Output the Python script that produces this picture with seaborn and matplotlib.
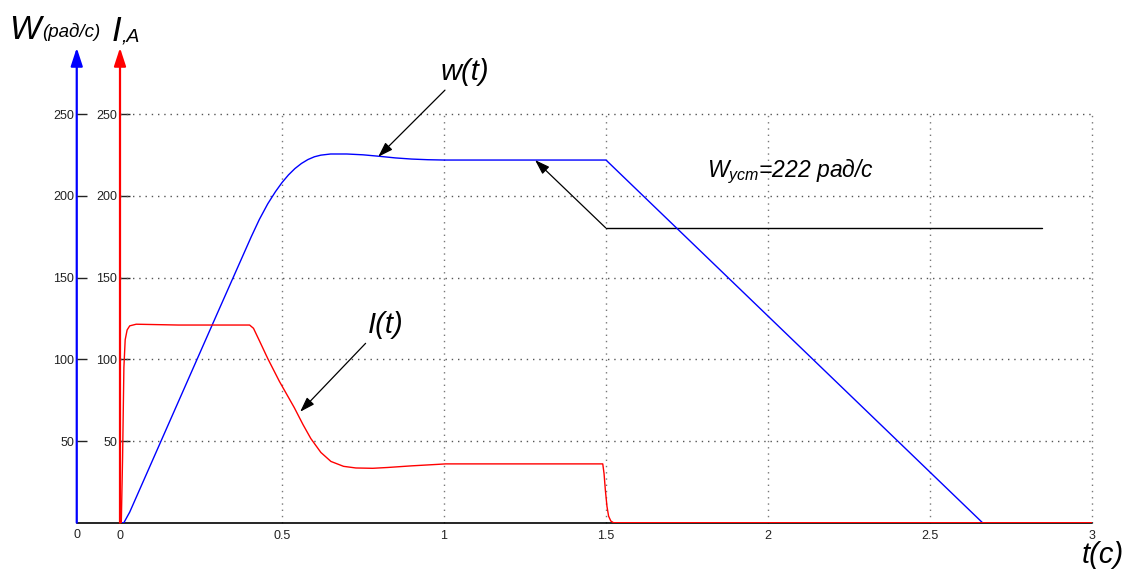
import matplotlib
matplotlib.use('Agg')
import matplotlib.pyplot as plt
import seaborn as sns
import pandas as pd

# Скорость w(t), рад/с
w_t = [0, 0.012, 0.03, 0.1, 0.2, 0.3, 0.405, 0.43, 0.456, 0.48, 0.5, 0.52,
       0.54, 0.56, 0.58, 0.6, 0.62, 0.65, 0.7, 0.75, 0.8, 0.85, 0.9, 0.95,
       1.0, 1.5, 2.662, 3.0]
w_val = [0, 0, 6.5, 38, 83, 128, 175, 185.6, 195.2, 202.7, 208.2, 212.9,
         216.8, 219.9, 222.3, 224, 225, 225.7, 225.7, 225.2, 224.3, 223.3, 222.6, 222.2,
         222, 222, 0, 0]

# Ток I(t), А
i_t = [0, 0.004, 0.008, 0.012, 0.016, 0.022, 0.03, 0.05, 0.18, 0.4, 0.412,
       0.43, 0.456, 0.492, 0.538, 0.565, 0.589, 0.62, 0.651, 0.69, 0.728, 0.78,
       0.826, 0.9, 0.98, 1.005, 1.49, 1.494, 1.498, 1.503, 1.508, 1.515, 1.523, 3.0]
i_val = [0, 0, 40, 95, 112, 118, 120.5, 121.5, 121, 121, 119,
         111.5, 100.5, 86.5, 70.4, 60, 51.5, 43, 37.5, 34.5, 33.5, 33.3,
         33.8, 34.8, 35.7, 36, 36, 30, 20, 10, 4, 1, 0, 0]

x_ticks = [0, 0.5, 1, 1.5, 2, 2.5, 3]
x_tick_labels = ['0', '0.5', '1', '1.5', '2', '2.5', '3']
y_ticks = [50, 100, 150, 200, 250]
w_ust = 222

df_w = pd.DataFrame({'t': w_t, 'w': w_val})
df_i = pd.DataFrame({'t': i_t, 'I': i_val})

sns.set_style('white')
plt.rcParams['font.family'] = ['Liberation Sans', 'DejaVu Sans']
plt.rcParams['text.color'] = 'black'
plt.rcParams['mathtext.fontset'] = 'custom'
plt.rcParams['mathtext.it'] = 'Liberation Sans:italic'
plt.rcParams['mathtext.rm'] = 'Liberation Sans'

fig = plt.figure(figsize=(11.27, 5.71), dpi=100)
ax = fig.add_axes([120 / 1127, 48.3 / 571, 972 / 1127, 408.4 / 571])
ax2 = ax.twinx()
blue_x = -0.0445

sns.lineplot(data=df_w, x='t', y='w', ax=ax, color='#0000ff', lw=1.0,
             estimator=None, sort=False, zorder=3)
sns.lineplot(data=df_i, x='t', y='I', ax=ax, color='#ff0000', lw=1.0,
             estimator=None, sort=False, zorder=4)

ax.set_xlim(0, 3)
ax.set_ylim(0, 250)
ax2.set_ylim(0, 250)
ax.set_xlabel('')
ax.set_ylabel('')

# сетка
for x in x_ticks[1:]:
    ax.plot([x, x], [0, 250], ls=(0, (1, 3.5)), color='#777777', lw=1.0,
            zorder=1, clip_on=False)
for y in y_ticks:
    ax.plot([0, 3], [y, y], ls=(0, (1, 3.5)), color='#555555', lw=1.0,
            zorder=1, clip_on=False)

for s in ax.spines.values():
    s.set_visible(False)
for s in ax2.spines.values():
    s.set_visible(False)

ax.set_xticks(x_ticks)
ax.set_xticklabels(x_tick_labels)
ax.set_yticks(y_ticks)
ax.tick_params(axis='x', direction='in', length=8, width=1, colors='#222222',
               labelsize=9, pad=5)
ax.tick_params(axis='y', direction='in', length=7, width=1, colors='#222222',
               labelsize=9, pad=2)
ax2.spines['left'].set_position(('axes', blue_x))
ax2.yaxis.set_ticks_position('left')
ax2.set_yticks(y_ticks)
ax2.tick_params(axis='y', direction='in', length=7, width=1, colors='#222222',
                labelsize=9, pad=2)
ax2.text(blue_x, -0.029, '0', transform=ax.transAxes, ha='center', va='center',
         fontsize=9, color='#222222')

# оси со стрелками
yt = ax.get_yaxis_transform()
ax.plot([blue_x, 1], [0, 0], transform=yt, color='black', lw=1.2,
        clip_on=False, zorder=2)
for xpos, col in [(blue_x, '#0000ff'), (0, '#ff0000')]:
    ax.annotate('', xy=(xpos, 290.7), xytext=(xpos, 0), xycoords=yt,
                textcoords=yt, annotation_clip=False,
                arrowprops=dict(arrowstyle='-|>,head_length=1.1,head_width=0.36',
                                color=col, lw=1.6, shrinkA=0, shrinkB=0))

# подписи осей
fig.text(9 / 1127, 1 - 39 / 571, 'W', fontsize=24, style='italic', va='baseline')
fig.text(42 / 1127, 1 - 37 / 571, '(рад/с)', fontsize=13.5, style='italic', va='baseline')
fig.text(112 / 1127, 1 - 41 / 571, 'I', fontsize=25, style='italic', va='baseline')
fig.text(122 / 1127, 1 - 41 / 571, ',A', fontsize=14, style='italic', va='baseline')
fig.text(1124 / 1127, 1 - 563 / 571, 't(c)', fontsize=21, style='italic',
         ha='right', va='baseline')

# аннотации
arrow = dict(arrowstyle='-|>,head_length=0.9,head_width=0.3', color='black',
             lw=0.9, shrinkA=0, shrinkB=0)
ax.text(1.065, 270.9, 'w(t)', fontsize=21, style='italic', ha='center',
        va='baseline')
ax.annotate('', xy=(0.797, 224.0), xytext=(1.003, 264.8), arrowprops=arrow,
            annotation_clip=False)
ax.text(0.821, 115.9, 'I(t)', fontsize=21, style='italic', ha='center',
        va='baseline')
ax.annotate('', xy=(0.556, 67.9), xytext=(0.758, 109.8), arrowprops=arrow)

ax.plot([1.499, 2.846], [180.5, 180.5], color='black', lw=1, zorder=2)
ax.annotate('', xy=(1.281, w_ust), xytext=(1.499, 180.5), arrowprops=arrow)
ax.text(1.812, 211.8, r'$\mathit{W}_{\mathit{уст}}$' + f'={w_ust} рад/с',
        fontsize=16.5, style='italic', ha='left', va='baseline')

plt.savefig('out.png', dpi=100)
